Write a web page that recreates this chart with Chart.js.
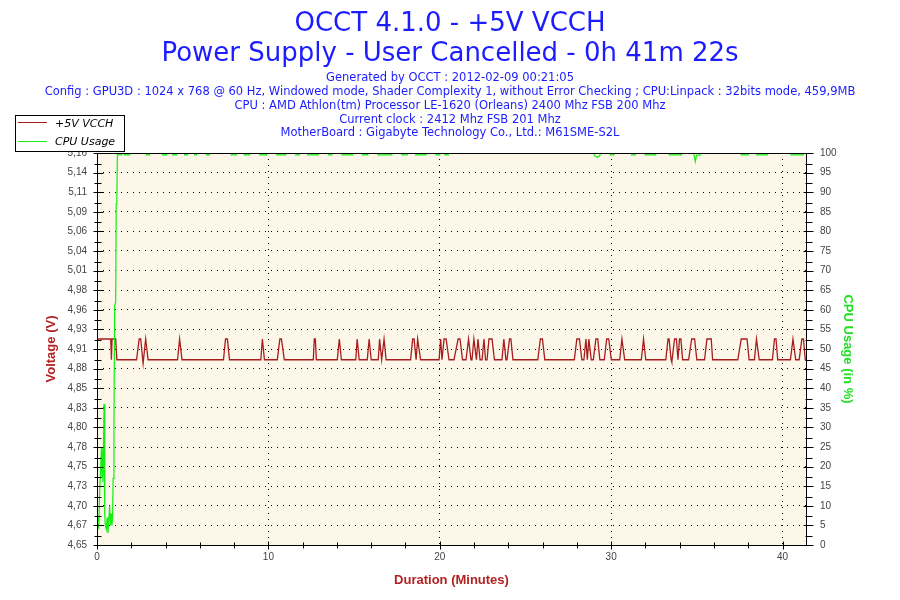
<!DOCTYPE html>
<html>
<head>
<meta charset="utf-8">
<title>OCCT 4.1.0 - +5V VCCH</title>
<script src="https://cdn.jsdelivr.net/npm/chart.js@4.4.0/dist/chart.umd.min.js"></script>
<style>
  html, body { margin: 0; padding: 0; background: #fff; }
  #wrap { width: 900px; height: 600px; }
</style>
</head>
<body>
<div id="wrap"><canvas id="chart" width="900" height="600"></canvas></div>
<script>
// +5V rail, minutes / volts
const voltTime = [
  0, 0.80, 0.84, 0.88, 1.09, 1.16,
  2.31, 2.46, 2.55, 2.69, 2.84, 2.98,
  4.70, 4.82, 4.96,
  7.38, 7.50, 7.61, 7.73,
  9.56, 9.65, 9.77,
  10.52, 10.67, 10.76, 10.93,
  12.62, 12.68, 12.74, 12.80,
  14.02, 14.14, 14.26,
  15.10, 15.18, 15.30,
  15.77, 15.88, 16.00,
  16.41, 16.49, 16.61, 16.75, 16.87,
  18.30, 18.42, 18.50, 18.62, 18.71, 18.88,
  19.96, 20.05, 20.13, 20.25, 20.37, 20.54,
  20.83, 21.07, 21.18, 21.33,
  21.53, 21.68, 21.82,
  21.88, 21.99, 22.14, 22.23, 22.35,
  22.47, 22.58, 22.67,
  22.76, 22.87, 23.05, 23.19,
  23.63, 23.74, 23.86,
  23.92, 24.07, 24.15, 24.27,
  25.72, 25.87, 25.99, 26.13,
  27.85, 28.00, 28.15, 28.29,
  28.41, 28.53, 28.61, 28.70, 28.84,
  28.96, 29.11, 29.22, 29.34,
  29.60, 29.74, 29.86, 30.01,
  30.50, 30.63, 30.79,
  31.76, 31.89, 32.02,
  33.19, 33.32, 33.38, 33.50,
  33.54, 33.70, 33.81, 33.90, 33.99, 34.07, 34.17,
  34.52, 34.70, 34.87, 35.00,
  35.45, 35.59, 35.84, 35.92,
  37.39, 37.59, 37.93, 38.05,
  38.36, 38.48, 38.64,
  39.41, 39.53, 39.62, 39.72,
  40.46, 40.61, 40.77,
  40.97, 41.13, 41.22, 41.33,
  41.37
];
const voltValue = [
  4.918, 4.918, 4.891, 4.918, 4.918, 4.891,
  4.891, 4.918, 4.918, 4.886, 4.918, 4.891,
  4.891, 4.918, 4.891,
  4.891, 4.918, 4.918, 4.891,
  4.891, 4.918, 4.891,
  4.891, 4.918, 4.918, 4.891,
  4.891, 4.918, 4.918, 4.891,
  4.891, 4.918, 4.891,
  4.891, 4.918, 4.891,
  4.891, 4.918, 4.891,
  4.891, 4.918, 4.891, 4.918, 4.891,
  4.891, 4.918, 4.918, 4.891, 4.918, 4.891,
  4.891, 4.918, 4.891, 4.918, 4.918, 4.891,
  4.891, 4.918, 4.918, 4.891,
  4.891, 4.918, 4.891,
  4.891, 4.918, 4.891, 4.918, 4.891,
  4.891, 4.918, 4.891,
  4.891, 4.918, 4.918, 4.891,
  4.891, 4.918, 4.891,
  4.891, 4.918, 4.918, 4.891,
  4.891, 4.918, 4.918, 4.891,
  4.891, 4.918, 4.918, 4.891,
  4.891, 4.918, 4.891, 4.918, 4.891,
  4.891, 4.918, 4.918, 4.891,
  4.891, 4.918, 4.918, 4.891,
  4.891, 4.918, 4.891,
  4.891, 4.918, 4.891,
  4.891, 4.918, 4.918, 4.891,
  4.888, 4.918, 4.918, 4.891, 4.918, 4.918, 4.891,
  4.891, 4.918, 4.918, 4.891,
  4.891, 4.918, 4.918, 4.891,
  4.891, 4.918, 4.918, 4.891,
  4.891, 4.918, 4.891,
  4.891, 4.918, 4.918, 4.891,
  4.891, 4.918, 4.891,
  4.891, 4.918, 4.918, 4.891,
  4.891
];

// CPU usage, minutes / percent
const cpuTime = [
  0, 0.06, 0.10, 0.16, 0.22, 0.26, 0.29, 0.32, 0.35, 0.41, 0.45, 0.48, 0.54, 0.59,
  0.64, 0.68, 0.74, 0.78, 0.83, 0.87, 0.91, 0.94, 0.99, 1.03, 1.09, 1.12, 1.16, 1.19,
  1.21, 1.21, 1.44, 1.44,
  1.61, 1.61, 1.90, 1.90,
  2.89, 2.89, 3.07, 3.07,
  3.83, 3.83, 4.06, 4.06,
  4.41, 4.41, 4.64, 4.64,
  5.11, 5.11, 5.28, 5.28,
  5.69, 5.69, 5.80, 5.80,
  6.39, 6.39, 6.56, 6.56,
  7.84, 7.84, 8.13, 8.13,
  8.60, 8.60, 8.90, 8.90,
  9.50, 9.50, 9.90, 9.90,
  10.50, 10.50, 11.00, 11.00,
  11.60, 11.60, 11.80, 11.80,
  12.30, 12.30, 12.90, 12.90,
  13.50, 13.50, 13.70, 13.70,
  14.30, 14.30, 14.90, 14.90,
  15.50, 15.50, 15.80, 15.80,
  16.40, 16.40, 17.20, 17.20,
  17.80, 17.80, 18.10, 18.10,
  18.60, 18.60, 19.20, 19.20,
  19.80, 19.80, 20.00, 20.00,
  20.30, 20.30, 20.50, 20.50,
  28.97, 29.05, 29.20, 29.32, 29.40,
  29.96, 29.96, 30.15, 30.15,
  31.20, 31.20, 31.40, 31.40,
  32.00, 32.00, 32.60, 32.60,
  33.40, 33.40, 34.10, 34.10,
  34.80, 34.84, 34.91, 34.98, 35.20, 35.20,
  37.60, 37.60, 38.00, 38.00,
  38.50, 38.50, 39.10, 39.10,
  40.50, 40.50, 41.20, 41.20,
  41.37
];
const cpuValue = [
  5, 7, 4, 14, 20, 25, 17, 24, 16, 36, 8, 5, 4, 7,
  3, 6, 10, 5, 8, 5, 7, 17, 31, 61, 62, 87, 88, 100,
  100, 99.5, 99.5, 100,
  100, 99.5, 99.5, 100,
  100, 99.5, 99.5, 100,
  100, 99.5, 99.5, 100,
  100, 99.5, 99.5, 100,
  100, 99.5, 99.5, 100,
  100, 99.5, 99.5, 100,
  100, 99.5, 99.5, 100,
  100, 99.5, 99.5, 100,
  100, 99.5, 99.5, 100,
  100, 99.5, 99.5, 100,
  100, 99.5, 99.5, 100,
  100, 99.5, 99.5, 100,
  100, 99.5, 99.5, 100,
  100, 99.5, 99.5, 100,
  100, 99.5, 99.5, 100,
  100, 99.5, 99.5, 100,
  100, 99.5, 99.5, 100,
  100, 99.5, 99.5, 100,
  100, 99.5, 99.5, 100,
  100, 99.5, 99.5, 100,
  100, 99.5, 99.5, 100,
  100, 99.2, 98.9, 99.2, 100,
  100, 99.5, 99.5, 100,
  100, 99.5, 99.5, 100,
  100, 99.5, 99.5, 100,
  100, 99.5, 99.5, 100,
  100, 99.4, 97.8, 99.4, 99.5, 100,
  100, 99.5, 99.5, 100,
  100, 99.5, 99.5, 100,
  100, 99.5, 99.5, 100,
  100
];

const voltTickLabels = ['4,65', '4,67', '4,70', '4,73', '4,75', '4,78', '4,80', '4,83', '4,85', '4,88', '4,91',
  '4,93', '4,96', '4,98', '5,01', '5,04', '5,06', '5,09', '5,11', '5,14', '5,16'];
const cpuTickLabels = ['0', '5', '10', '15', '20', '25', '30', '35', '40', '45', '50',
  '55', '60', '65', '70', '75', '80', '85', '90', '95', '100'];
const timeTickLabels = ['0', '10', '20', '30', '40'];

const titleLines = ['OCCT 4.1.0 - +5V VCCH', 'Power Supply - User Cancelled - 0h 41m 22s'];
const infoLines = [
  'Generated by OCCT : 2012-02-09 00:21:05',
  'Config : GPU3D : 1024 x 768 @ 60 Hz, Windowed mode, Shader Complexity 1, without Error Checking ; CPU:Linpack : 32bits mode, 459,9MB',
  'CPU : AMD Athlon(tm) Processor LE-1620 (Orleans) 2400 Mhz FSB 200 Mhz',
  'Current clock : 2412 Mhz FSB 201 Mhz',
  'MotherBoard : Gigabyte Technology Co., Ltd.: M61SME-S2L'
];
const seriesNames = ['+5V VCCH', 'CPU Usage'];

const RED = '#a81e1e';
const GREEN = '#12f012';
const BLUE = '#1c1cff';
const tickFont = { family: '"Liberation Sans", Arial, sans-serif', size: 10 };

const voltPoints = voltTime.map((t, i) => ({ x: t, y: voltValue[i] }));
const cpuPoints = cpuTime.map((t, i) => ({ x: t, y: cpuValue[i] }));

const occtDecor = {
  id: 'occtDecor',
  beforeDraw(chart) {
    const { ctx, chartArea: a } = chart;
    ctx.save();
    ctx.fillStyle = '#fcf7e8';
    ctx.fillRect(a.left, a.top, a.right - a.left, a.bottom - a.top);
    ctx.restore();
  },
  afterDatasetsDraw(chart) {
    const { ctx, chartArea: a, scales } = chart;
    ctx.save();
    ctx.strokeStyle = '#000';
    ctx.lineWidth = 1;
    ctx.strokeRect(a.left + 0.5, a.top + 0.5, a.right - a.left, a.bottom - a.top);

    // tick marks crossing the axes, with half-step minor ticks
    ctx.beginPath();
    const yl = scales.y, yr = scales.y1, xs = scales.x;
    const lx = a.left + 0.5, rx = a.right + 0.5, by = a.bottom + 0.5;
    yl.ticks.forEach((t, i) => {
      const p = Math.round(yl.getPixelForValue(t.value)) + 0.5;
      ctx.moveTo(lx - 4, p); ctx.lineTo(lx + 6, p);
      if (i > 0) {
        const m = Math.round((p + Math.round(yl.getPixelForValue(yl.ticks[i - 1].value)) + 0.5) / 2) + 0.5;
        ctx.moveTo(lx - 3, m); ctx.lineTo(lx + 4, m);
      }
    });
    yr.ticks.forEach((t, i) => {
      const p = Math.round(yr.getPixelForValue(t.value)) + 0.5;
      ctx.moveTo(rx - 3, p); ctx.lineTo(rx + 7, p);
      if (i > 0) {
        const m = Math.round((p + Math.round(yr.getPixelForValue(yr.ticks[i - 1].value)) + 0.5) / 2) + 0.5;
        ctx.moveTo(rx - 1, m); ctx.lineTo(rx + 6, m);
      }
    });
    for (let v = 0; v <= xs.max; v += 2) {
      const p = Math.round(xs.getPixelForValue(v)) + 0.5;
      const major = v % 10 === 0;
      ctx.moveTo(p, by - (major ? 4 : 3)); ctx.lineTo(p, by + (major ? 4 : 3));
    }
    ctx.stroke();
    ctx.restore();
  },
  afterDraw(chart) {
    const { ctx, chartArea: a } = chart;
    const cx = chart.width / 2;
    ctx.save();

    // header
    ctx.textAlign = 'center';
    ctx.textBaseline = 'alphabetic';
    ctx.fillStyle = BLUE;
    ctx.font = '26px "DejaVu Sans", Verdana, sans-serif';
    ctx.fillText(titleLines[0], cx, 31);
    ctx.fillText(titleLines[1], cx, 61);
    ctx.font = '11.5px "DejaVu Sans", Verdana, sans-serif';
    [81, 95, 108.5, 122.5, 136].forEach((y, i) => ctx.fillText(infoLines[i], cx, y));

    // axis titles
    ctx.font = 'bold 13px "Liberation Sans", Arial, sans-serif';
    ctx.textBaseline = 'middle';
    ctx.fillStyle = '#b22222';
    ctx.fillText('Duration (Minutes)', (a.left + a.right) / 2, 580);
    const midY = (a.top + a.bottom) / 2;
    ctx.save();
    ctx.translate(51, midY);
    ctx.rotate(-Math.PI / 2);
    ctx.fillText('Voltage (V)', 0, 0);
    ctx.restore();
    ctx.save();
    ctx.translate(848, midY);
    ctx.rotate(Math.PI / 2);
    ctx.fillStyle = '#22e022';
    ctx.fillText('CPU Usage (in %)', 0, 0);
    ctx.restore();

    // legend box
    ctx.fillStyle = '#fff';
    ctx.fillRect(15, 115, 109, 36);
    ctx.strokeStyle = '#000';
    ctx.lineWidth = 1;
    ctx.strokeRect(15.5, 115.5, 109, 36);
    ctx.strokeStyle = RED;
    ctx.beginPath(); ctx.moveTo(18, 122.5); ctx.lineTo(47, 122.5); ctx.stroke();
    ctx.strokeStyle = GREEN;
    ctx.beginPath(); ctx.moveTo(18, 141.5); ctx.lineTo(47, 141.5); ctx.stroke();
    ctx.fillStyle = '#000';
    ctx.textAlign = 'left';
    ctx.textBaseline = 'alphabetic';
    ctx.font = 'italic 11px "DejaVu Sans", Verdana, sans-serif';
    ctx.fillText(seriesNames[0], 55, 126.5);
    ctx.fillText(seriesNames[1], 55, 145);
    ctx.restore();
  }
};

new Chart(document.getElementById('chart'), {
  type: 'line',
  data: {
    datasets: [
      { label: seriesNames[1], data: cpuPoints, yAxisID: 'y1', borderColor: GREEN, borderWidth: 1.2,
        pointRadius: 0, tension: 0, fill: false },
      { label: seriesNames[0], data: voltPoints, yAxisID: 'y', borderColor: RED, borderWidth: 1.3,
        pointRadius: 0, tension: 0, fill: false }
    ]
  },
  options: {
    responsive: false,
    animation: false,
    devicePixelRatio: 1,
    layout: { padding: { top: 153, left: 0, right: 0, bottom: 0 } },
    plugins: { legend: { display: false }, tooltip: { enabled: false }, title: { display: false } },
    scales: {
      x: {
        type: 'linear', min: 0, max: 41.37,
        afterFit: s => { s.height = 55; },
        ticks: { stepSize: 10, includeBounds: false, autoSkip: false, maxRotation: 0, padding: 6,
          color: '#444', font: tickFont, callback: (v, i) => timeTickLabels[i] },
        grid: { color: '#000', lineWidth: 1, drawTicks: false },
        border: { display: false, dash: [1, 5] }
      },
      y: {
        type: 'linear', position: 'left', min: 4.65, max: 5.16,
        afterFit: s => { s.width = 97; },
        ticks: { stepSize: 0.0255, autoSkip: false, padding: 10, color: '#444', font: tickFont,
          callback: (v, i) => voltTickLabels[i] },
        grid: { color: '#000', lineWidth: 1, drawTicks: false },
        border: { display: false, dash: [1, 5] }
      },
      y1: {
        type: 'linear', position: 'right', min: 0, max: 100,
        afterFit: s => { s.width = 94; },
        ticks: { stepSize: 5, autoSkip: false, padding: 14, color: '#444', font: tickFont,
          callback: (v, i) => cpuTickLabels[i] },
        grid: { drawOnChartArea: false, drawTicks: false },
        border: { display: false }
      }
    }
  },
  plugins: [occtDecor]
});
</script>
</body>
</html>
